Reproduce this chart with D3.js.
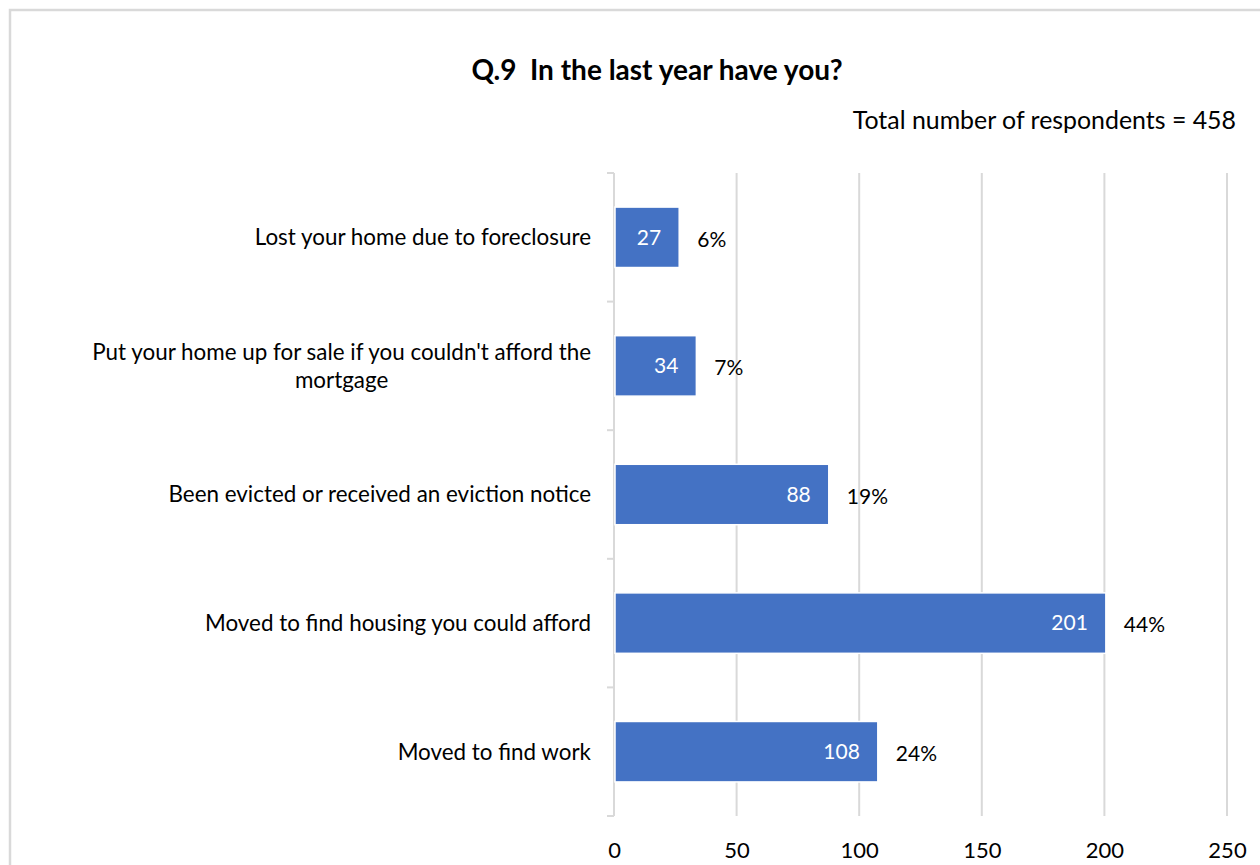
<!DOCTYPE html>
<html>
<head>
<meta charset="utf-8">
<script src="https://cdn.jsdelivr.net/npm/d3@7"></script>
<style>
  html, body { margin: 0; padding: 0; background: #fff; }
  svg { display: block; }
  text { font-family: Lato, "Open Sans", sans-serif; }
</style>
</head>
<body>
<svg id="chart" width="1260" height="865"></svg>
<script>
// Survey responses: Q.9 "In the last year have you?"
const categories = [
  "Lost your home due to foreclosure",
  "Put your home up for sale if you couldn't afford the mortgage",
  "Been evicted or received an eviction notice",
  "Moved to find housing you could afford",
  "Moved to find work"
];
const counts = [27, 34, 88, 201, 108];
const percents = [6, 7, 19, 44, 24];
const xTicks = [0, 50, 100, 150, 200, 250];
const totalRespondents = 458;

const svg = d3.select("#chart");
const W = 1260, H = 865;
const labelFont = 22.4;

// outer frame
svg.append("rect")
  .attr("x", 10).attr("y", 10)
  .attr("width", W + 20).attr("height", H + 20)
  .attr("fill", "#fff").attr("stroke", "#d9d9d9").attr("stroke-width", 2.5);

const plot = { left: 614, right: 1227, top: 173, bottom: 816 };

const x = d3.scaleLinear().domain([0, 250]).range([plot.left, plot.right]);
const y = d3.scaleBand().domain(categories).range([plot.top, plot.bottom]).paddingInner(0.53).paddingOuter(0.265);

// gridlines
svg.append("g")
  .selectAll("line")
  .data(xTicks.slice(1))
  .join("line")
  .attr("x1", d => x(d)).attr("x2", d => x(d))
  .attr("y1", plot.top).attr("y2", plot.bottom)
  .attr("stroke", "#d9d9d9").attr("stroke-width", 2);

// category axis with ticks at band boundaries
const bandStep = (plot.bottom - plot.top) / categories.length;
const yAxis = svg.append("g");
yAxis.append("line")
  .attr("x1", plot.left).attr("x2", plot.left)
  .attr("y1", plot.top).attr("y2", plot.bottom)
  .attr("stroke", "#d9d9d9").attr("stroke-width", 2);
yAxis.selectAll("line.tick")
  .data(d3.range(categories.length + 1))
  .join("line")
  .attr("class", "tick")
  .attr("x1", plot.left - 7).attr("x2", plot.left)
  .attr("y1", i => plot.top + i * bandStep).attr("y2", i => plot.top + i * bandStep)
  .attr("stroke", "#d9d9d9").attr("stroke-width", 2);

// value axis labels
svg.append("g")
  .attr("transform", `translate(0,${plot.bottom})`)
  .call(d3.axisBottom(x).tickValues(xTicks).tickSize(0).tickPadding(0))
  .call(g => g.select(".domain").remove())
  .call(g => g.selectAll("text")
    .attr("y", 34)
    .attr("dy", "0.35em")
    .attr("fill", "#000")
    .style("font-size", "22px")
    .style("font-family", "Lato, 'Open Sans', sans-serif"));

// category labels (wrapped, centred lines, right edge at the axis)
const labelRight = 591;
const maxLabelWidth = 510;
const labels = svg.append("g");
categories.forEach(cat => {
  const t = labels.append("text")
    .attr("font-size", labelFont)
    .attr("fill", "#000");
  const words = cat.split(" ");
  const lines = [];
  let line = [];
  const probe = svg.append("text").attr("font-size", labelFont).style("visibility", "hidden");
  words.forEach(w => {
    const test = line.concat(w).join(" ");
    probe.text(test);
    if (probe.node().getComputedTextLength() > maxLabelWidth && line.length) {
      lines.push(line.join(" "));
      line = [w];
    } else {
      line.push(w);
    }
  });
  lines.push(line.join(" "));
  const widths = lines.map(l => { probe.text(l); return probe.node().getComputedTextLength(); });
  probe.remove();
  const maxW = d3.max(widths);
  const cx = labelRight - maxW / 2;
  const cy = y(cat) + y.bandwidth() / 2;
  const lh = 28;
  lines.forEach((l, i) => {
    t.append("tspan")
      .attr("x", cx)
      .attr("y", cy + (i - (lines.length - 1) / 2) * lh)
      .attr("dy", "0.35em")
      .attr("text-anchor", "middle")
      .text(l);
  });
});

// bars (thin white outline, as in the original chart style)
svg.append("g")
  .selectAll("rect")
  .data(categories)
  .join("rect")
  .attr("x", x(0) + 1)
  .attr("y", d => y(d))
  .attr("width", (d, i) => x(counts[i]) - x(0) - 2)
  .attr("height", y.bandwidth())
  .attr("fill", "#4472c4")
  .attr("stroke", "#fff").attr("stroke-width", 1.5);

// counts inside bars
svg.append("g")
  .selectAll("text")
  .data(categories)
  .join("text")
  .attr("x", (d, i) => x(counts[i]) - 19)
  .attr("y", d => y(d) + y.bandwidth() / 2)
  .attr("dy", "0.35em")
  .attr("text-anchor", "end")
  .attr("font-size", 21)
  .attr("fill", "#fff")
  .text((d, i) => counts[i]);

// percentages beside bars
svg.append("g")
  .selectAll("text")
  .data(categories)
  .join("text")
  .attr("x", (d, i) => x(counts[i]) + 17)
  .attr("y", d => y(d) + y.bandwidth() / 2 + 2)
  .attr("dy", "0.35em")
  .attr("text-anchor", "start")
  .attr("font-size", 21)
  .attr("fill", "#000")
  .text((d, i) => percents[i] + "%");

// title and subtitle
svg.append("text")
  .attr("x", 657).attr("y", 70)
  .attr("dy", "0.35em")
  .attr("text-anchor", "middle")
  .attr("font-size", 28)
  .attr("font-weight", "bold")
  .attr("fill", "#000")
  .attr("xml:space", "preserve")
  .text("Q.9  In the last year have you?");

svg.append("text")
  .attr("x", 1236).attr("y", 120)
  .attr("dy", "0.35em")
  .attr("text-anchor", "end")
  .attr("font-size", 24.9)
  .attr("fill", "#000")
  .text(`Total number of respondents = ${totalRespondents}`);
</script>
</body>
</html>
